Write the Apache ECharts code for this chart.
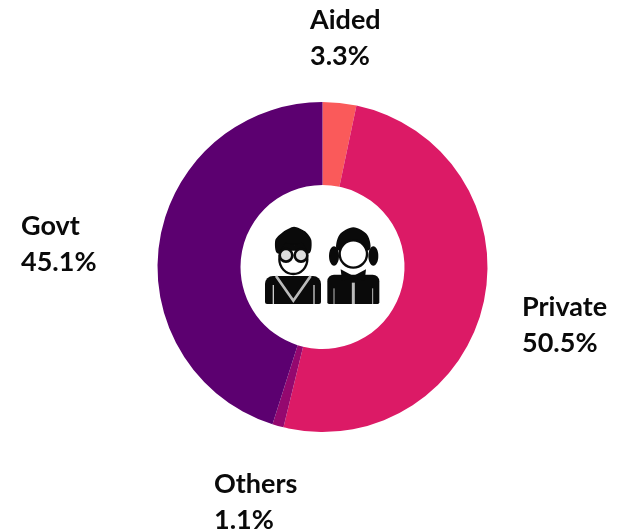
<!DOCTYPE html>
<html>
<head>
<meta charset="utf-8">
<style>
  html, body { margin: 0; padding: 0; background: #fff; }
  #chart { width: 625px; height: 531px; }
</style>
<script src="https://cdn.jsdelivr.net/npm/echarts@6/dist/echarts.min.js"></script>
</head>
<body>
<div id="chart"></div>
<script>
const categories = ['Aided', 'Private', 'Others', 'Govt'];
const shares = [3.3, 50.5, 1.1, 45.1];
const colors = ['#fa5a5a', '#dc1a66', '#94086f', '#5c0070'];
// where each label block sits (left, vertical middle)
const labelSpots = [[310, 38], [522, 325], [214, 502], [21, 244]];

const ink = { fill: '#0a0a0a' };
const outlined = { fill: '#fff', stroke: '#0a0a0a', lineWidth: 7 };
const seam = { stroke: '#ccc', lineWidth: 4 };

// students icon, drawn in zoomed-crop units and scaled down by the group
const icon = {
  type: 'group',
  x: 220,
  y: 190,
  scaleX: 1 / 3,
  scaleY: 1 / 3,
  children: [
    // boy
    { type: 'polygon', shape: { smooth: 0.25, points: [[172, 190], [166, 150], [190, 125], [222, 110], [255, 124], [274, 150], [268, 190]] }, style: ink },
    { type: 'ellipse', shape: { cx: 220, cy: 208, rx: 42, ry: 44 }, style: outlined },
    { type: 'polygon', shape: { points: [[180, 182], [196, 158], [225, 166], [246, 156], [262, 182]] }, style: ink },
    { type: 'circle', shape: { cx: 198, cy: 196, r: 19 }, style: { fill: '#ddd', stroke: '#0a0a0a', lineWidth: 8 } },
    { type: 'circle', shape: { cx: 243, cy: 196, r: 19 }, style: { fill: '#ddd', stroke: '#0a0a0a', lineWidth: 8 } },
    { type: 'rect', shape: { x: 135, y: 258, width: 168, height: 84, r: [24, 24, 6, 6] }, style: ink },
    { type: 'polyline', shape: { points: [[168, 258], [220, 332], [272, 258]] }, style: { stroke: '#bbb', lineWidth: 8, fill: null } },
    { type: 'line', shape: { x1: 160, y1: 285, x2: 160, y2: 342 }, style: seam },
    { type: 'line', shape: { x1: 282, y1: 285, x2: 282, y2: 342 }, style: seam },
    // girl
    { type: 'polygon', shape: { smooth: 0.3, points: [[352, 180], [358, 135], [400, 112], [442, 135], [448, 180]] }, style: ink },
    { type: 'ellipse', shape: { cx: 342, cy: 198, rx: 15, ry: 29 }, style: ink },
    { type: 'ellipse', shape: { cx: 460, cy: 198, rx: 15, ry: 29 }, style: ink },
    { type: 'ellipse', shape: { cx: 400, cy: 192, rx: 41, ry: 41 }, style: outlined },
    { type: 'rect', shape: { x: 322, y: 254, width: 156, height: 88, r: [20, 20, 5, 5] }, style: ink },
    { type: 'polygon', shape: { points: [[362, 238], [400, 258], [438, 238], [434, 272], [400, 264], [366, 272]] }, style: ink },
    { type: 'line', shape: { x1: 400, y1: 278, x2: 400, y2: 342 }, style: { stroke: '#bbb', lineWidth: 9 } },
    { type: 'line', shape: { x1: 342, y1: 295, x2: 342, y2: 342 }, style: { stroke: '#bbb', lineWidth: 3 } },
    { type: 'line', shape: { x1: 458, y1: 295, x2: 458, y2: 342 }, style: { stroke: '#bbb', lineWidth: 3 } }
  ]
};

const chart = echarts.init(document.getElementById('chart'), null, { renderer: 'canvas' });
chart.setOption({
  animation: false,
  backgroundColor: '#fff',
  color: colors,
  series: [
    {
      type: 'pie',
      center: [322.5, 267],
      radius: [82, 165],
      startAngle: 90,
      clockwise: true,
      silent: true,
      data: categories.map((name, i) => ({ name, value: shares[i] })),
      labelLine: { show: false },
      label: {
        show: true,
        position: 'outside',
        formatter: p => p.name + '\n' + p.value + '%',
        fontFamily: 'Lato',
        fontWeight: 'bold',
        fontSize: 27,
        lineHeight: 36,
        color: '#0a0a0a',
        align: 'left',
        overflow: 'none',
        width: 120
      },
      labelLayout: p => ({
        x: labelSpots[p.dataIndex][0],
        y: labelSpots[p.dataIndex][1],
        align: 'left',
        verticalAlign: 'middle',
        hideOverlap: false
      })
    }
  ],
  graphic: [icon]
});
</script>
</body>
</html>
